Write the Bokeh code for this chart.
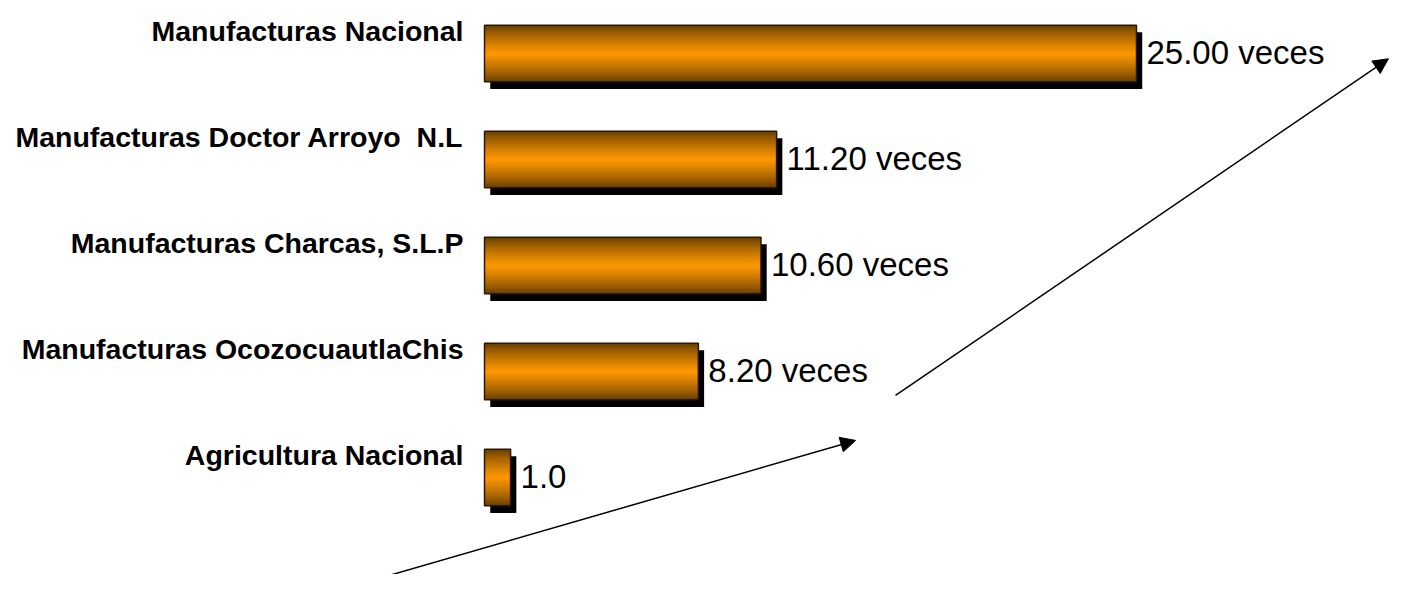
import numpy as np
from bokeh.plotting import figure
from bokeh.models import Arrow, NormalHead, ColumnDataSource
from bokeh.core.properties import value
from bokeh.embed import file_html
from bokeh.resources import INLINE

# ---- data (top to bottom) ----
categories = ["Manufacturas Nacional", "Manufacturas Doctor Arroyo \u00a0N.L",
              "Manufacturas Charcas, S.L.P", "Manufacturas OcozocuautlaChis",
              "Agricultura Nacional"]
values = [25.0, 11.2, 10.6, 8.2, 1.0]
value_labels = ["25.00 veces", "11.20 veces", "10.60 veces", "8.20 veces", "1.0"]

# decorative arrows (data coordinates)
arrow1 = dict(x0=-5.71, y0=-1.07, x1=14.23, y1=0.35)
arrow2 = dict(x0=15.76, y0=0.774, x1=34.66, y1=3.95)

n = len(categories)
ypos = np.arange(n)[::-1].astype(float)   # 4 (top) ... 0 (bottom)
vals = np.array(values)

W, H = 1390, 574
p = figure(width=W, height=H, output_backend="svg", toolbar_location=None,
           x_range=(-18.56, 34.74), y_range=(-0.915, 4.5),
           min_border=0, min_border_left=0, min_border_right=0,
           min_border_top=0, min_border_bottom=0)
p.axis.visible = False
p.grid.visible = False
p.outline_line_color = None
p.background_fill_color = "white"
p.border_fill_color = "white"

bar_h = 0.535
# shadow
dx, dy = 0.22, 0.068
p.hbar(y=ypos - dy, left=dx, right=vals + dx, height=bar_h, fill_color="black", line_color=None)

# gradient via nested bars (dark outer -> bright centre)
N = 40
dark = np.array([0x60, 0x3a, 0x00], float)
bright = np.array([0xff, 0x99, 0x00], float)
for k in range(N):
    frac = 1 - k / N            # relative height
    w = (1 - frac) ** 0.75
    c = dark + (bright - dark) * w
    col = "#%02x%02x%02x" % tuple(int(round(x)) for x in c)
    p.hbar(y=ypos, left=0, right=vals, height=bar_h * frac,
           fill_color=col, line_color=None)

# outline
p.hbar(y=ypos, left=0, right=vals, height=bar_h, fill_alpha=0,
       line_color="#2a1800", line_width=1.5)

src = ColumnDataSource(dict(y=ypos, v=vals, cat=categories, lab=value_labels,
                            zero=np.zeros(n)))
p.text(x="zero", y="y", text="cat", source=src, x_offset=-21, y_offset=-23,
       text_align="right", text_baseline="middle",
       text_font=value("Liberation Sans"), text_font_style="bold",
       text_font_size="28.5px", text_color="black")
p.text(x="v", y="y", text="lab", source=src, x_offset=10, y_offset=-1,
       text_align="left", text_baseline="middle",
       text_font=value("Liberation Sans"), text_font_size="33px",
       text_color="black")

for a in (arrow1, arrow2):
    p.add_layout(Arrow(x_start=a["x0"], y_start=a["y0"], x_end=a["x1"], y_end=a["y1"],
                       line_color="black", line_width=1.5,
                       end=NormalHead(size=15, fill_color="black", line_color="black")))

open("out.html", "w").write(file_html(p, INLINE))
